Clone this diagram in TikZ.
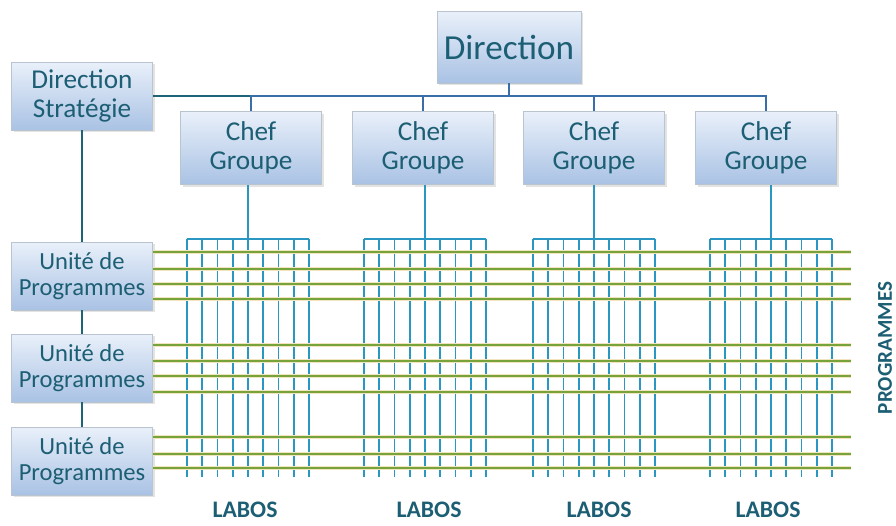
\documentclass[tikz,border=0pt]{standalone}
\usepackage{fontspec}
\setmainfont{Carlito}
\usepackage{tikz}
\usetikzlibrary{positioning,shadows}
\definecolor{boxtop}{HTML}{E9F0FA}
\definecolor{boxbot}{HTML}{A9C2E4}
\definecolor{boxedge}{HTML}{BAC4CE}
\definecolor{txtteal}{HTML}{1C5E73}
\definecolor{dirblue}{HTML}{3A6EA8}
\definecolor{stratteal}{HTML}{1D6479}
\definecolor{labblue}{HTML}{2A97C2}
\definecolor{proggreen}{HTML}{76A33A}
\definecolor{proghalo}{HTML}{F1E4BE}

\tikzset{
  orgbox/.style={draw=boxedge, line width=0.4pt, top color=boxtop, bottom color=boxbot,
    text=txtteal, align=center, inner sep=0pt,
    drop shadow={opacity=0.22, shadow xshift=1.2pt, shadow yshift=-1.2pt}},
  chefbox/.style={orgbox, minimum width=2.82cm, minimum height=1.46cm, font=\fontsize{15.5}{16.5}\selectfont},
  unitbox/.style={orgbox, minimum width=2.82cm, minimum height=1.36cm, font=\fontsize{14}{15.2}\selectfont},
  dirline/.style={dirblue, line width=1.6pt},
  stratline/.style={stratteal, line width=1.6pt},
  labline/.style={labblue, line width=1.1pt},
  progline/.style={proggreen, line width=1.1pt, preaction={draw=proghalo, line width=1.9pt}},
  tag/.style={text=txtteal, font=\bfseries\fontsize{13.5}{15}\selectfont}
}

\begin{document}
\begin{tikzpicture}[x=0.02cm, y=-0.02cm]
  \useasboundingbox (0,0) rectangle (896,525);

  % boxes
  \node[orgbox, minimum width=2.88cm, minimum height=1.44cm, font=\fontsize{20}{24}\selectfont] (dir) at (509,47) {Direction};
  \node[chefbox, minimum height=1.36cm] (strat) at (82,96) {Direction\\Stratégie};
  \foreach \c [count=\k] in {251,423,594,766}{
    \node[chefbox] (chef\k) at (\c,148) {Chef\\Groupe};
  }
  \node[unitbox] (u1) at (82,276) {Unité de\\Programmes};
  \node[unitbox] (u2) at (82,368) {Unité de\\Programmes};
  \node[unitbox] (u3) at (82,461) {Unité de\\Programmes};

  % direction tree
  \draw[stratline] (strat.east) -- (strat.east -| chef1.north);
  \draw[stratline] (strat.south) -- (u1.north);
  \draw[stratline] (u1.south) -- (u2.north);
  \draw[stratline] (u2.south) -- (u3.north);
  \draw[dirline] (chef1.north) |- (strat.east -| chef4.north) -- (chef4.north);
  \draw[dirline] (dir.south) -- (dir.south |- strat.east);
  \draw[dirline] (chef2.north) -- (chef2.north |- strat.east);
  \draw[dirline] (chef3.north) -- (chef3.north |- strat.east);

  % labos
  \foreach \c [count=\k] in {248,425,594,771}{
    \coordinate (comb\k) at (\c,239);
    \draw[labline] (comb\k |- chef\k.south) -- (comb\k);
    \draw[labline] (\c-61,239) -- (\c+61,239);
    \foreach \i in {0,...,8}
      \draw[labline] (\c-61+\i*15.25,239) -- ++(0,238);
  }

  % programmes
  \foreach \y/\u in {252/u1,269/u1,284/u1,299/u1,345/u2,361/u2,376/u2,392/u2,437/u3,454/u3,468/u3}{
    \draw[progline] (\u.east |- 0,\y) -- (851,\y);
  }

  \node[tag] (lab1) at (245,510) {LABOS};
  \node[tag] (lab2) at (429,510) {LABOS};
  \node[tag] (lab3) at (599,510) {LABOS};
  \node[tag] (lab4) at (768,510) {LABOS};
  \node[tag, rotate=90, font=\bfseries\fontsize{12}{14}\selectfont] (prog) at (885,348) {PROGRAMMES};
\end{tikzpicture}
\end{document}
